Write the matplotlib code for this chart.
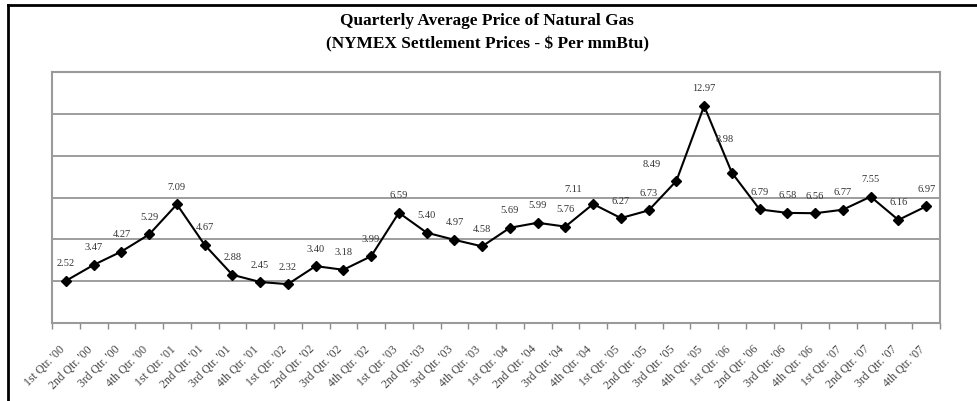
import numpy as np
import matplotlib
matplotlib.use('Agg')
import matplotlib.pyplot as plt
import matplotlib.transforms as mtransforms
from matplotlib.lines import Line2D

plt.rcParams['font.family'] = ['Liberation Serif', 'DejaVu Serif']

years = ['00', '01', '02', '03', '04', '05', '06', '07']
quarters = ['1st', '2nd', '3rd', '4th']
labels = ["%s Qtr. '%s" % (q, y) for y in years for q in quarters]
prices = [2.52, 3.47, 4.27, 5.29,
          7.09, 4.67, 2.88, 2.45,
          2.32, 3.40, 3.18, 3.99,
          6.59, 5.40, 4.97, 4.58,
          5.69, 5.99, 5.76, 7.11,
          6.27, 6.73, 8.49, 12.97,
          8.98, 6.79, 6.58, 6.56,
          6.77, 7.55, 6.16, 6.97]

# a few labels were nudged by hand in the original (pixels)
nudge = {19: (-20, 2), 22: (-25, 1), 24: (-7, -16)}

fig = plt.figure(figsize=(9.77, 4.02), dpi=100)
ax = fig.add_axes([52/977, 78/402, 888/977, 251/402])

x = np.arange(len(prices))
ax.plot(x, prices, color='black', lw=1.5, marker='D', ms=5.5, zorder=3)

for i, v in enumerate(prices):
    dx, dy = nudge.get(i, (0, 0))
    ax.annotate('%.2f' % v, (i, v), xytext=(dx*0.72, (18 - dy)*0.72),
                textcoords='offset points', ha='center', va='center',
                fontsize=7.5, color='#333333')

ax.set_xlim(-0.5, len(prices) - 0.5)
ax.set_ylim(0, 15)
ax.set_yticks(np.arange(0, 15.1, 2.5))
ax.set_yticklabels([])
ax.tick_params(axis='y', length=0)
ax.grid(axis='y', color='#8c8c8c', lw=1.2)
ax.set_axisbelow(True)

ax.set_xticks(x)
ax.set_xticklabels(labels, rotation=45, ha='right', rotation_mode='anchor',
                   fontsize=8.5, color='#444444')
ax.tick_params(axis='x', which='major', length=0, pad=14)
shift = mtransforms.ScaledTranslation(-7/100, 0, fig.dpi_scale_trans)
for t in ax.get_xticklabels():
    t.set_transform(t.get_transform() + shift)
ax.set_xticks(np.arange(-0.5, len(prices) - 0.4, 1), minor=True)
ax.tick_params(axis='x', which='minor', length=4, color='#8c8c8c', width=1)

for s in ax.spines.values():
    s.set_color('#9a9a9a')
    s.set_linewidth(1.5)

fig.text(487/977, 1 - 21/402, 'Quarterly Average Price of Natural Gas',
         ha='center', va='center', fontsize=12.4, fontweight='bold')
fig.text(487/977, 1 - 44/402, '(NYMEX Settlement Prices - $ Per mmBtu)',
         ha='center', va='center', fontsize=12.4, fontweight='bold')

# outer frame lines at top and left
fig.add_artist(Line2D([8/977, 1], [1 - 6/402, 1 - 6/402], color='black', lw=2))
fig.add_artist(Line2D([8/977, 8/977], [0, 1 - 6/402], color='black', lw=2))

fig.savefig('out.png', dpi=100)
